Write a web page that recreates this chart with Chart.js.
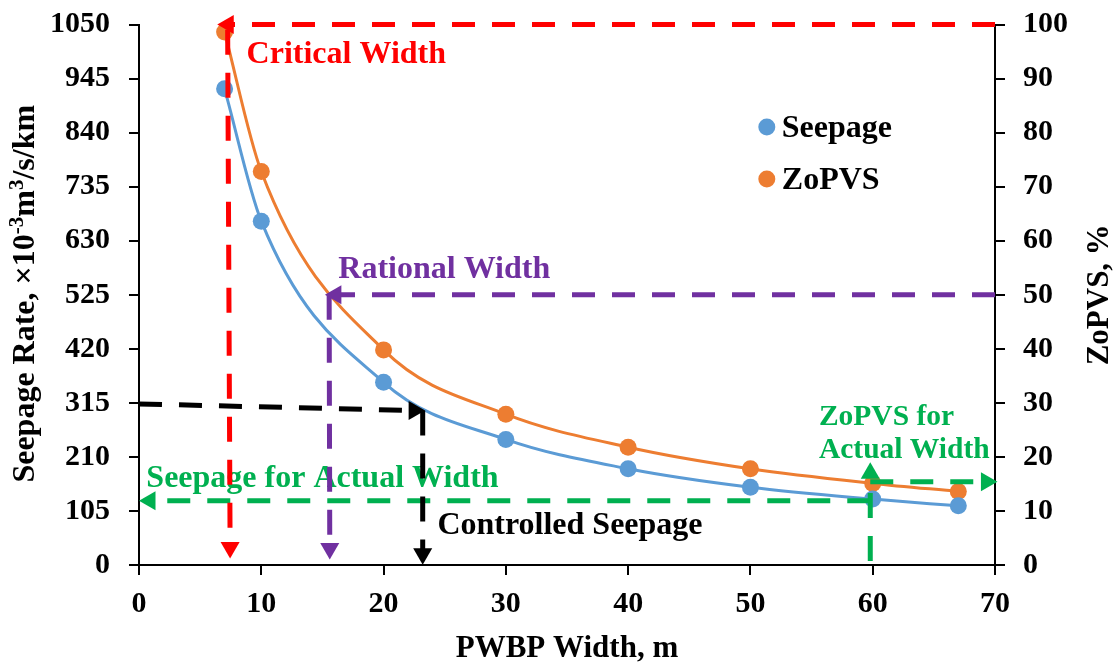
<!DOCTYPE html>
<html><head><meta charset="utf-8">
<script src="https://cdn.jsdelivr.net/npm/chart.js@4.4.1/dist/chart.umd.min.js"></script>
<style>html,body{margin:0;padding:0;background:#fff;}#wrap{width:1116px;height:665px;position:relative;}</style>
</head><body><div id="wrap"><canvas id="c"></canvas></div>
<script>
// ---- data ----
const widths = [7, 10, 20, 30, 40, 50, 60, 67];
const seepage = [925, 668, 355, 244, 187, 151, 128, 115];
const zopvs = [98.6, 72.8, 39.8, 27.9, 21.8, 17.8, 15.1, 13.6];
const xTicks = [0, 10, 20, 30, 40, 50, 60, 70];
const seepageTicks = [0, 105, 210, 315, 420, 525, 630, 735, 840, 945, 1050];
const zopvsTicks = [0, 10, 20, 30, 40, 50, 60, 70, 80, 90, 100];

// guide lines, [x, y] in data units
const criticalH = [[70, 100], [7.3, 100]];          // right axis (%)
const criticalV = [[7.25, 1040], [7.45, 34]];       // left axis
const rationalH = [[70, 50], [16.1, 50]];           // right axis (%)
const rationalV = [[15.55, 525], [15.6, 32]];       // left axis
const controlledH = [[0, 313], [22.5, 300]];        // left axis
const controlledV = [[23.2, 300], [23.2, 22]];      // left axis
const actualSeepH = [[59.8, 125], [0.9, 125]];      // left axis
const actualV = [[59.8, 8], [59.8, 178]];           // left axis
const actualZoH = [[59.8, 15.4], [69.3, 15.4]];     // right axis (%)

const FONT = '"Liberation Serif", "Times New Roman", serif';
const BLUE = '#5B9BD5', ORANGE = '#ED7D31', RED = '#FF0000', PURPLE = '#7030A0', GREEN = '#00B050', BLACK = '#000000';

const notes = [
  {text: 'Critical Width', x: 8.8, y: 975, axis: 'y', color: RED, size: 32},
  {text: 'Rational Width', x: 16.3, y: 558, axis: 'y', color: PURPLE, size: 32},
  {text: 'Seepage for Actual Width', x: 0.6, y: 151, axis: 'y', color: GREEN, size: 32},
  {text: 'Controlled Seepage', x: 24.4, y: 60, axis: 'y', color: BLACK, size: 32},
  {text: 'ZoPVS for', x: 55.6, y: 272, axis: 'y', color: GREEN, size: 29.5},
  {text: 'Actual Width', x: 55.6, y: 208, axis: 'y', color: GREEN, size: 29.5}
];
const legendItems = [
  {text: 'Seepage', color: BLUE, x: 51.34, y: 851, ty: 831},
  {text: 'ZoPVS', color: ORANGE, x: 51.34, y: 750, ty: 731}
];

function pts(a){ return a.map(p => ({x: p[0], y: p[1]})); }
function guide(arr, color, axis, rot, dash){
  return {
    type: 'line', data: pts(arr), yAxisID: axis, order: 0, clip: false,
    borderColor: color, borderWidth: 5, borderDash: dash || [23, 17], tension: 0,
    pointRadius: [0, 11], pointStyle: 'triangle', pointRotation: [0, rot],
    pointBackgroundColor: color, pointBorderWidth: 0, pointHoverRadius: 0
  };
}

const textPlugin = {
  id: 'texts',
  beforeDatasetsDraw(chart){
    const ctx = chart.ctx, xs = chart.scales.x;
    ctx.save();
    ctx.textAlign = 'left'; ctx.textBaseline = 'alphabetic';
    notes.forEach(n => {
      ctx.font = 'bold ' + n.size + 'px ' + FONT;
      ctx.fillStyle = n.color;
      ctx.fillText(n.text, xs.getPixelForValue(n.x), chart.scales[n.axis].getPixelForValue(n.y));
    });
    ctx.restore();
  },
  afterDraw(chart){
    const ctx = chart.ctx, xs = chart.scales.x, ys = chart.scales.y, ca = chart.chartArea;
    ctx.save();
    legendItems.forEach(l => {
      const px = xs.getPixelForValue(l.x);
      ctx.fillStyle = l.color;
      ctx.beginPath(); ctx.arc(px, ys.getPixelForValue(l.y), 8.5, 0, Math.PI * 2); ctx.fill();
      ctx.fillStyle = BLACK; ctx.font = 'bold 32px ' + FONT; ctx.textAlign = 'left'; ctx.textBaseline = 'alphabetic';
      ctx.fillText(l.text, px + 15, ys.getPixelForValue(l.ty));
    });
    ctx.fillStyle = BLACK; ctx.font = 'bold 31px ' + FONT; ctx.textAlign = 'center';
    ctx.fillText('PWBP Width, m', (ca.left + ca.right) / 2, 657);
    ctx.save();
    ctx.translate(1108, (ca.top + ca.bottom) / 2); ctx.rotate(-Math.PI / 2);
    ctx.fillText('ZoPVS, %', 0, 0);
    ctx.restore();
    const segs = [
      {t: 'Seepage Rate, \u00D710', sup: false},
      {t: '-3', sup: true},
      {t: 'm', sup: false},
      {t: '3', sup: true},
      {t: '/s/km', sup: false}
    ];
    const mainF = 'bold 32px ' + FONT, supF = 'bold 21px ' + FONT;
    let total = 0;
    segs.forEach(s => { ctx.font = s.sup ? supF : mainF; s.w = ctx.measureText(s.t).width; total += s.w; });
    ctx.save();
    ctx.translate(34, (ca.top + ca.bottom) / 2 - 1); ctx.rotate(-Math.PI / 2);
    ctx.textAlign = 'left';
    let cx = -total / 2;
    segs.forEach(s => { ctx.font = s.sup ? supF : mainF; ctx.fillText(s.t, cx, s.sup ? -11 : 0); cx += s.w; });
    ctx.restore();
    ctx.restore();
  }
};

const tickFont = {family: FONT, size: 30, weight: 'bold'};
function axisBase(){
  return {
    grid: {display: true, drawOnChartArea: false, drawTicks: true, tickLength: 10, color: BLACK, lineWidth: 2},
    border: {display: true, color: BLACK, width: 2}
  };
}
function fixedTicks(list){ return function(scale){ scale.ticks = list.map(v => ({value: v})); }; }
const plain = v => String(v);

new Chart(document.getElementById('c'), {
  type: 'line',
  data: {
    datasets: [
      guide(criticalH, RED, 'y2', -90),
      guide(criticalV, RED, 'y', 180, [25, 18]),
      guide(rationalH, PURPLE, 'y2', -90),
      guide(rationalV, PURPLE, 'y', 180, [25, 18]),
      guide(controlledH, BLACK, 'y', 90),
      guide(controlledV, BLACK, 'y', 180, [25, 18]),
      guide(actualSeepH, GREEN, 'y', -90),
      guide(actualV, GREEN, 'y', 0, [25, 18]),
      guide(actualZoH, GREEN, 'y2', 90),
      {
        label: 'Seepage', data: widths.map((w, i) => ({x: w, y: seepage[i]})), yAxisID: 'y', order: 1,
        borderColor: BLUE, backgroundColor: BLUE, borderWidth: 3, cubicInterpolationMode: 'monotone',
        pointRadius: 8.5, pointBackgroundColor: BLUE, pointBorderWidth: 0
      },
      {
        label: 'ZoPVS', data: widths.map((w, i) => ({x: w, y: zopvs[i]})), yAxisID: 'y2', order: 1,
        borderColor: ORANGE, backgroundColor: ORANGE, borderWidth: 3, cubicInterpolationMode: 'monotone',
        pointRadius: 8.5, pointBackgroundColor: ORANGE, pointBorderWidth: 0
      }
    ]
  },
  options: {
    responsive: true, maintainAspectRatio: false, animation: false,
    events: [],
    layout: {padding: {top: 24.5, left: 0, right: 0, bottom: 0}},
    plugins: {legend: {display: false}, tooltip: {enabled: false}},
    scales: {
      x: Object.assign(axisBase(), {
        type: 'linear', position: 'bottom', min: 0, max: 70,
        afterBuildTicks: fixedTicks(xTicks),
        ticks: {font: tickFont, color: BLACK, padding: 11, maxRotation: 0, callback: plain},
        afterFit(s){ s.height = 100; s.paddingLeft = 0; s.paddingRight = 0; }
      }),
      y: Object.assign(axisBase(), {
        type: 'linear', position: 'left', min: 0, max: 1050,
        afterBuildTicks: fixedTicks(seepageTicks),
        ticks: {font: tickFont, color: BLACK, padding: 19, callback: plain},
        afterFit(s){ s.width = 139; s.paddingTop = 0; s.paddingBottom = 0; }
      }),
      y2: Object.assign(axisBase(), {
        type: 'linear', position: 'right', min: 0, max: 100,
        afterBuildTicks: fixedTicks(zopvsTicks),
        ticks: {font: tickFont, color: BLACK, padding: 18, callback: plain},
        afterFit(s){ s.width = 121; s.paddingTop = 0; s.paddingBottom = 0; }
      })
    }
  },
  plugins: [textPlugin]
});
</script></body></html>
